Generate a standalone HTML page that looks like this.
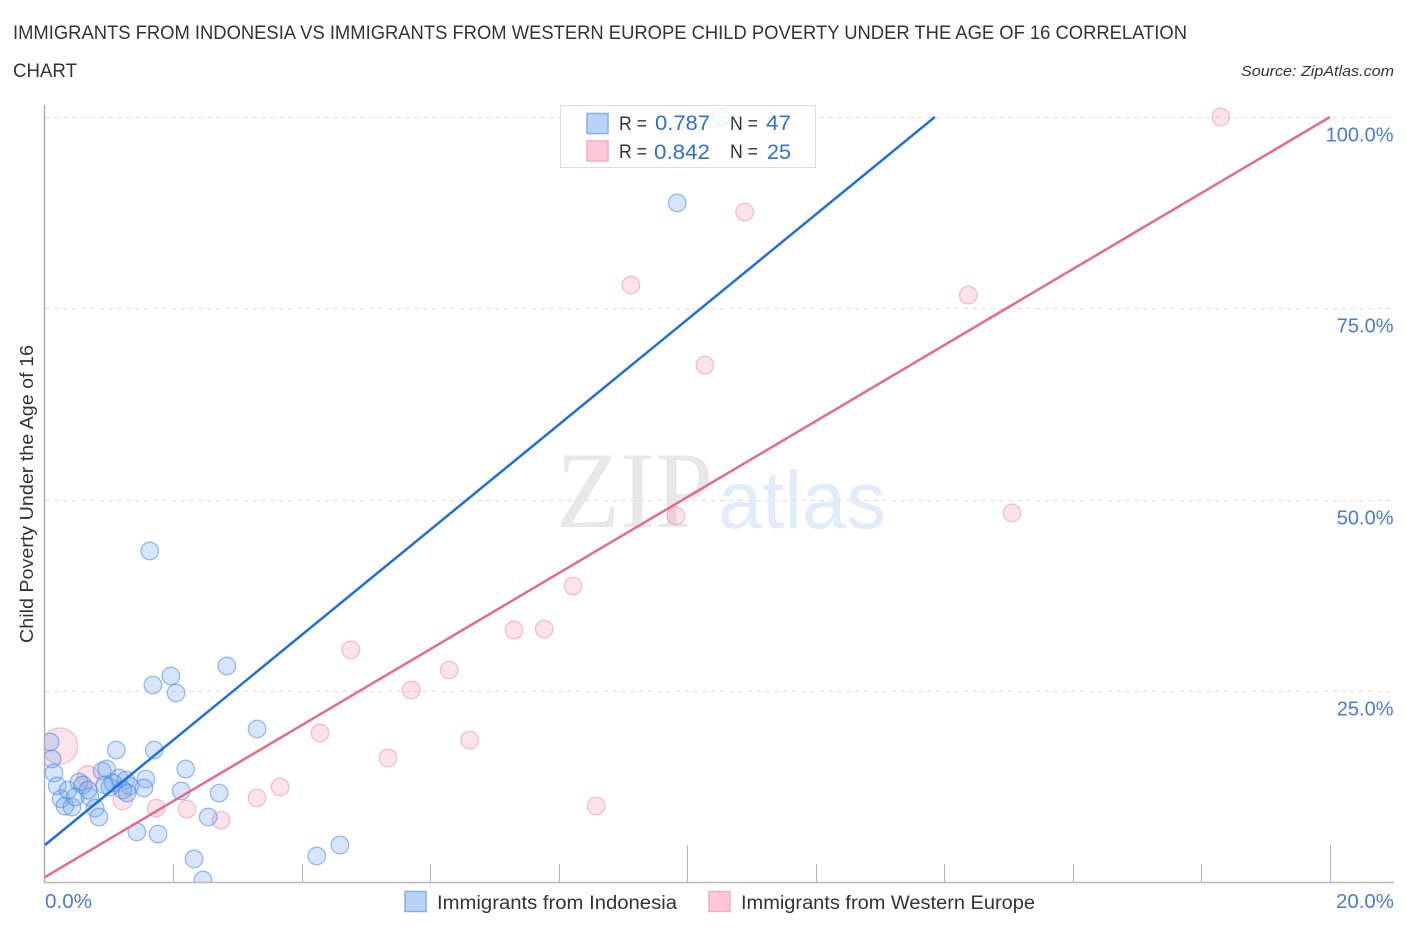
<!DOCTYPE html>
<html lang="en">
<head>
<meta charset="utf-8">
<title>Immigrants from Indonesia vs Immigrants from Western Europe Child Poverty Correlation Chart</title>
<style>
html,body{margin:0;padding:0;background:#fff;width:1406px;height:930px;overflow:hidden}
svg{display:block}
text{font-family:"Liberation Sans",sans-serif}
</style>
</head>
<body>
<svg id="chart" xmlns="http://www.w3.org/2000/svg" width="1406" height="930" viewBox="0 0 1406 930">
  <defs><clipPath id="plot-clip"><rect x="45" y="100" width="1320" height="782"/></clipPath></defs>
  <text x="13" y="39" font-size="19" fill="#333" textLength="1174" lengthAdjust="spacingAndGlyphs">IMMIGRANTS FROM INDONESIA VS IMMIGRANTS FROM WESTERN EUROPE CHILD POVERTY UNDER THE AGE OF 16 CORRELATION</text>
  <text x="13" y="77" font-size="19" fill="#333" textLength="64" lengthAdjust="spacingAndGlyphs">CHART</text>
  <text x="1241" y="76" font-size="15" font-style="italic" fill="#333" textLength="153" lengthAdjust="spacingAndGlyphs">Source: ZipAtlas.com</text>
  <g>
    <text x="556" y="527" font-size="109" fill="#e8e8e8" style="font-family:'Liberation Serif',serif" textLength="157" lengthAdjust="spacingAndGlyphs">ZIP</text>
    <text x="718" y="528" font-size="82" fill="#e1ecfb" textLength="168" lengthAdjust="spacingAndGlyphs">atlas</text>
  </g>
  <g id="grid"></g>
  <g id="axes"></g>
  <g id="points" clip-path="url(#plot-clip)"></g>
  <g id="trends"></g>
  <g id="labels"></g>
  <text transform="translate(33,494) rotate(-90)" text-anchor="middle" font-size="18" fill="#333" textLength="298" lengthAdjust="spacingAndGlyphs">Child Poverty Under the Age of 16</text>
  <g>
    <rect x="560.5" y="105.5" width="255" height="62" fill="#fff" fill-opacity="0.82" stroke="#dcdcdc" stroke-width="1"/>
    <rect x="587" y="113.5" width="21" height="20" fill="#b9d3f8" stroke="#87aee8" stroke-width="1.5"/>
    <rect x="587" y="141" width="21" height="20" fill="#fdc7d9" stroke="#f3aac3" stroke-width="1.5"/>
    <text x="619" y="130" font-size="19" fill="#333" textLength="28" lengthAdjust="spacingAndGlyphs">R =</text>
    <text x="655" y="130" font-size="21" fill="#3070d0" textLength="55" lengthAdjust="spacingAndGlyphs">0.787</text>
    <text x="730" y="130" font-size="19" fill="#333" textLength="28" lengthAdjust="spacingAndGlyphs">N =</text>
    <text x="766" y="130" font-size="21" fill="#3070d0" textLength="25" lengthAdjust="spacingAndGlyphs">47</text>
    <text x="619" y="158" font-size="19" fill="#333" textLength="28" lengthAdjust="spacingAndGlyphs">R =</text>
    <text x="654" y="159" font-size="21" fill="#3070d0" textLength="56" lengthAdjust="spacingAndGlyphs">0.842</text>
    <text x="730" y="158" font-size="19" fill="#333" textLength="28" lengthAdjust="spacingAndGlyphs">N =</text>
    <text x="767" y="159" font-size="21" fill="#3070d0" textLength="24" lengthAdjust="spacingAndGlyphs">25</text>
  </g>
  <g>
    <rect x="405" y="891.5" width="21" height="20" fill="#b9d3f8" stroke="#87aee8" stroke-width="1.5"/>
    <text x="437" y="909" font-size="19" fill="#333" textLength="240" lengthAdjust="spacingAndGlyphs">Immigrants from Indonesia</text>
    <rect x="709" y="891.5" width="21" height="20" fill="#fdc7d9" stroke="#f3aac3" stroke-width="1.5"/>
    <text x="741" y="909" font-size="19" fill="#333" textLength="294" lengthAdjust="spacingAndGlyphs">Immigrants from Western Europe</text>
  </g>
</svg>
<script>
const indonesiaX = [10.52,9.84,1.63,2.83,1.96,1.68,2.04,3.30,0.08,0.11,0.14,0.19,0.25,0.31,0.42,0.36,0.53,0.59,0.47,0.70,0.78,0.84,0.89,0.96,1.01,1.15,1.26,1.32,1.57,1.54,1.70,1.11,2.19,2.12,2.71,2.54,1.43,1.76,2.32,2.46,4.23,4.59,1.06,1.21,1.28,0.93,0.67];
const indonesiaY = [100,88.76,43.27,28.24,26.93,25.75,24.71,20.0,18.3,16.08,14.25,12.55,10.85,9.93,9.8,12.03,13.07,12.68,11.11,11.11,9.67,8.5,14.51,14.77,12.42,13.59,13.33,12.55,13.46,12.29,17.25,17.25,14.77,11.9,11.63,8.5,6.54,6.27,3.01,0.26,3.4,4.84,12.94,12.03,11.63,12.68,12.03];
const europeX = [18.30,10.89,9.12,14.37,10.27,9.82,15.05,8.22,7.30,7.77,4.76,6.29,5.70,4.28,6.61,5.34,3.66,3.30,2.74,2.21,1.73,1.21,8.58,0.67,0.23];
const europeY = [100,87.58,78.04,76.73,67.58,47.84,48.24,38.69,32.94,33.07,30.33,27.71,25.1,19.48,18.56,16.21,12.42,10.98,8.1,9.54,9.67,10.72,9.93,13.73,17.78];
const europeWeight = [1,1,1,1,1,1,1,1,1,1,1,1,1,1,1,1,1,1,1,1,1,1.2,1,1.6,4.2];
const indonesiaTrendX = [0,13.85];
const indonesiaTrendY = [4.84,100];
const europeTrendX = [0,20];
const europeTrendY = [0.65,100];
const xTicks = [2,4,6,8,10,12,14,16,18,20];
const yGridValues = [25,50,75,100];
const yTickLabels = ["25.0%","50.0%","75.0%","100.0%"];
const xTickLabels = ["0.0%","20.0%"];

const NS = "http://www.w3.org/2000/svg";
function xScale(v){ return 45 + v * 64.25; }
function yScale(v){ return 882 - v * 7.65; }
function rScale(w){ return 8.8 * Math.sqrt(w); }
function make(tag, attrs, parent){
  const el = document.createElementNS(NS, tag);
  for (const k in attrs) el.setAttribute(k, attrs[k]);
  parent.appendChild(el);
  return el;
}
const gridG = document.getElementById("grid");
const axesG = document.getElementById("axes");
const pointsG = document.getElementById("points");
const trendsG = document.getElementById("trends");
const labelsG = document.getElementById("labels");

yGridValues.forEach(function(v, i){
  const y = Math.round(yScale(v)) + 0.5;
  const line = make("line", {x1:45, x2:1394, y1:y, y2:y, stroke:"#e2e2e2", "stroke-width":1, "stroke-dasharray":"5 4"}, gridG);
  
  
  const label = make("text", {x:1393.5, y:y + 24, "text-anchor":"end", "font-size":20, fill:"#4a7bd8"}, labelsG);
  label.textContent = yTickLabels[i];
  
  
});

const yAxis = make("line", {x1:44.5, x2:44.5, y1:105, y2:883, stroke:"#b0b0b0", "stroke-width":1.5}, axesG);


const xAxis = make("line", {x1:44, x2:1394, y1:882.5, y2:882.5, stroke:"#b8b8b8", "stroke-width":1.5}, axesG);


xTicks.forEach(function(v){
  const x = Math.floor(xScale(v)) + 0.5;
  const tick = make("line", {x1:x, x2:x, y1:(v % 10 === 0 ? 845 : 864), y2:882, stroke:"#b4b4b4", "stroke-width":1}, axesG);
  
  
});

const xLabelLeft = make("text", {x:45, y:908, "font-size":20, fill:"#4a7bd8", textLength:47, lengthAdjust:"spacingAndGlyphs"}, labelsG);
xLabelLeft.textContent = xTickLabels[0];


const xLabelRight = make("text", {x:1336, y:908, "font-size":20, fill:"#4a7bd8", textLength:58, lengthAdjust:"spacingAndGlyphs"}, labelsG);
xLabelRight.textContent = xTickLabels[1];



europeX.forEach(function(v, i){
  const c = make("circle", {cx:xScale(v), cy:yScale(europeY[i]), r:rScale(europeWeight[i]), fill:"#f48fb1", "fill-opacity":0.26, stroke:"#ee8fae", "stroke-opacity":0.55, "stroke-width":1.3}, pointsG);
  
  
});
indonesiaX.forEach(function(v, i){
  const c = make("circle", {cx:xScale(v), cy:yScale(indonesiaY[i]), r:rScale(1), fill:"#78a9ea", "fill-opacity":0.3, stroke:"#3f7fdc", "stroke-opacity":0.5, "stroke-width":1.3}, pointsG);
  
  
});

const trendBlue = make("line", {x1:xScale(indonesiaTrendX[0]), y1:yScale(indonesiaTrendY[0]), x2:xScale(indonesiaTrendX[1]), y2:yScale(indonesiaTrendY[1]), stroke:"#1f6fdc", "stroke-width":2.5}, trendsG);


const trendPink = make("line", {x1:xScale(europeTrendX[0]), y1:yScale(europeTrendY[0]), x2:xScale(europeTrendX[1]), y2:yScale(europeTrendY[1]), stroke:"#e8688f", "stroke-width":2.5}, trendsG);


</script>
</body>
</html>
